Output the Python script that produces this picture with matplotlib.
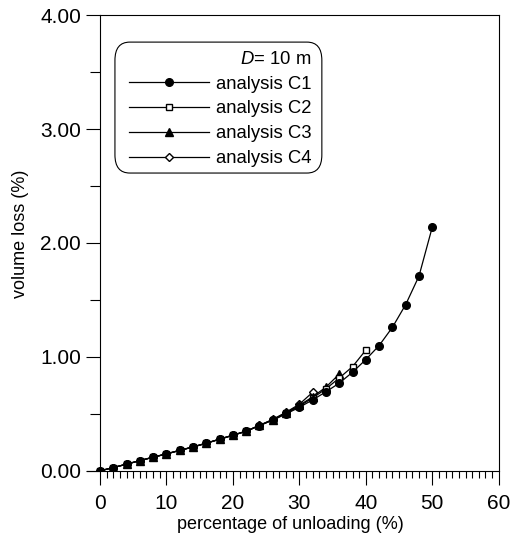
import matplotlib
matplotlib.use("Agg")
import matplotlib.pyplot as plt
from matplotlib.patches import FancyBboxPatch
from matplotlib.ticker import MultipleLocator, FixedLocator, FormatStrFormatter

plt.rcParams['font.family'] = ['Liberation Sans', 'DejaVu Sans']
plt.rcParams['mathtext.fontset'] = 'custom'
plt.rcParams['mathtext.rm'] = 'Liberation Sans'
plt.rcParams['mathtext.it'] = 'Liberation Sans:italic'

# percentage of unloading (%)
unload_c1 = [0, 2, 4, 6, 8, 10, 12, 14, 16, 18, 20, 22, 24, 26, 28, 30, 32, 34, 36,
             38, 40, 42, 44, 46, 48, 50]
unload_c2 = [0, 2, 4, 6, 8, 10, 12, 14, 16, 18, 20, 22, 24, 26, 28, 30, 32, 34, 36, 38, 40]
unload_c3 = [0, 2, 4, 6, 8, 10, 12, 14, 16, 18, 20, 22, 24, 26, 28, 30, 32, 34, 36]
unload_c4 = [0, 2, 4, 6, 8, 10, 12, 14, 16, 18, 20, 22, 24, 26, 28, 30, 32]

# volume loss (%)
loss_c1 = [0.0, 0.029, 0.059, 0.09, 0.12, 0.149, 0.18, 0.21, 0.243, 0.278, 0.313, 0.348,
           0.398, 0.445, 0.50, 0.558, 0.623, 0.694, 0.77, 0.866, 0.977, 1.10, 1.26,
           1.46, 1.71, 2.14]
loss_c2 = [0.0, 0.029, 0.059, 0.09, 0.12, 0.149, 0.18, 0.21, 0.243, 0.278, 0.313, 0.348,
           0.398, 0.447, 0.505, 0.568, 0.64, 0.72, 0.815, 0.915, 1.06]
loss_c3 = [0.0, 0.029, 0.059, 0.09, 0.12, 0.149, 0.18, 0.21, 0.243, 0.278, 0.313, 0.348,
           0.399, 0.449, 0.51, 0.575, 0.65, 0.735, 0.85]
loss_c4 = [0.0, 0.029, 0.059, 0.09, 0.12, 0.149, 0.18, 0.21, 0.243, 0.278, 0.313, 0.349,
           0.40, 0.452, 0.515, 0.585, 0.69]

series = [
    (unload_c1, loss_c1, "analysis C1", dict(marker='o', markersize=5.5, mfc='black'), 5),
    (unload_c2, loss_c2, "analysis C2", dict(marker='s', markersize=5, mfc='white', mew=1.0), 4),
    (unload_c3, loss_c3, "analysis C3", dict(marker='^', markersize=6, mfc='black'), 3),
    (unload_c4, loss_c4, "analysis C4", dict(marker='D', markersize=4, mfc='white', mew=1.0), 2),
]

fig = plt.figure(figsize=(5.19, 5.40), dpi=100)
ax = fig.add_axes([0.167, 0.128, 0.794, 0.844])

handles = []
for xs, ys, lab, st, z in series:
    h, = ax.plot(xs, ys, color='black', lw=0.9, mec='black', label=lab, zorder=z, **st)
    handles.append(h)

ax.set_xlim(-2, 60)
ax.set_ylim(0, 4)

ax.spines['left'].set_position(('data', 0))
ax.spines['top'].set_bounds(0, 60)
for s in ax.spines.values():
    s.set_linewidth(0.8)

ax.xaxis.set_major_locator(MultipleLocator(10))
ax.xaxis.set_minor_locator(FixedLocator([v for v in range(1, 60) if v % 10]))
ax.yaxis.set_major_locator(MultipleLocator(1))
ax.yaxis.set_minor_locator(MultipleLocator(0.5))
ax.yaxis.set_major_formatter(FormatStrFormatter('%.2f'))

ax.tick_params(axis='x', which='major', direction='out', length=10, width=0.8,
               labelsize=15, pad=7)
ax.tick_params(axis='x', which='minor', direction='out', length=5, width=0.8)
ax.tick_params(axis='y', which='major', direction='out', length=10, width=0.8,
               labelsize=15, pad=3.5)
ax.tick_params(axis='y', which='minor', direction='out', length=7, width=0.8)

ax.set_xlabel("percentage of unloading (%)", fontsize=13)
ax.xaxis.set_label_coords(0.495, -0.099)
ax.set_ylabel("volume loss (%)", fontsize=13)
ax.yaxis.set_label_coords(-0.14, 0.52)

# legend entries without frame; a rounded box is drawn around them separately
leg = ax.legend(handles=handles, loc='upper left', bbox_to_anchor=(0.0836, 0.9396),
                borderaxespad=0, title=r"$D$= 10 m$\;\;$",
                fontsize=13.3, title_fontsize=13.3, handlelength=4.3, handletextpad=0.38,
                labelspacing=0.42, borderpad=0.45, frameon=False, alignment='right')

box = FancyBboxPatch((0.0686, 0.6535), 0.5021, 0.2873,
                     boxstyle='round,pad=0,rounding_size=0.036',
                     mutation_aspect=456 / 412.3,
                     transform=ax.transAxes, facecolor='white', edgecolor='black',
                     linewidth=0.8, zorder=6)
ax.add_patch(box)
leg.set_zorder(7)

fig.savefig("out.png", dpi=100)
